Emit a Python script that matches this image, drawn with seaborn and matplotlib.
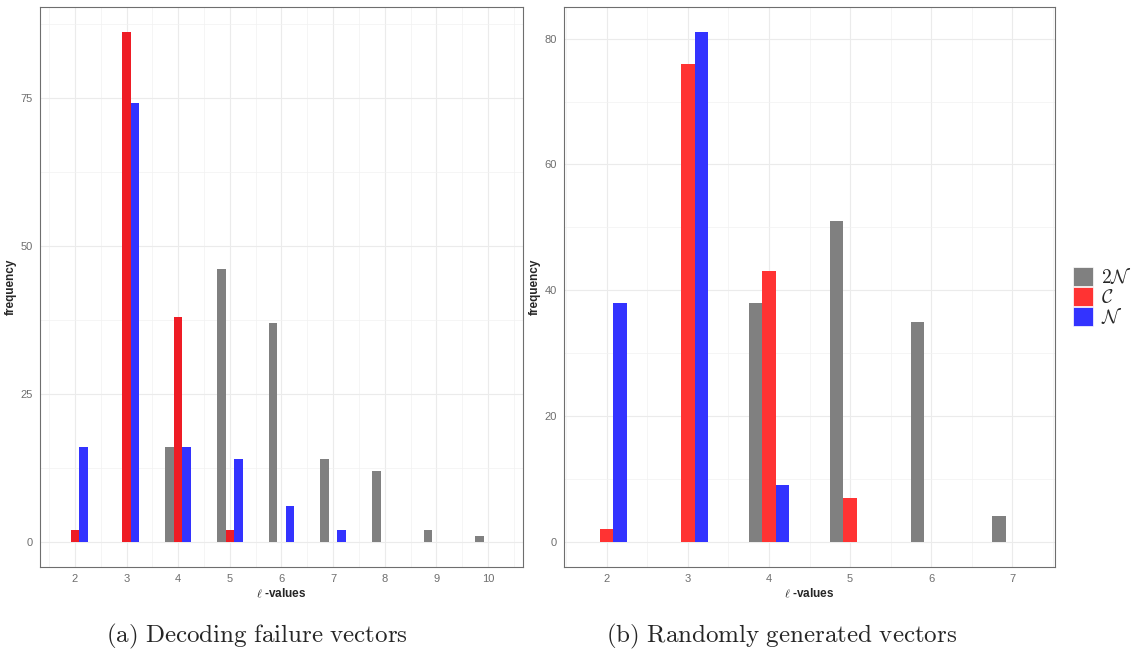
import matplotlib
matplotlib.use("Agg")
import matplotlib.pyplot as plt
from matplotlib.patches import Patch
from matplotlib.ticker import MultipleLocator
import numpy as np
import pandas as pd
import seaborn as sns

# l-values and frequencies, panel (a): decoding failure vectors
l_vals_a = [2, 3, 4, 5, 6, 7, 8, 9, 10]
freq_2n_a = [None, None, 16, 46, 37, 14, 12, 2, 1]
freq_c_a = [2, 86, 38, 2, None, None, None, None, None]
freq_n_a = [16, 74, 16, 14, 6, 2, None, None, None]

# panel (b): randomly generated vectors
l_vals_b = [2, 3, 4, 5, 6, 7]
freq_2n_b = [None, None, 38, 51, 35, 4]
freq_c_b = [2, 76, 43, 7, None, None]
freq_n_b = [38, 81, 9, None, None, None]

groups = ["2N", "C", "N"]
group_labels = [r"$2\mathcal{N}$", r"$\mathcal{C}$", r"$\mathcal{N}$"]
yticks_a = [0, 25, 50, 75]
yticks_b = [0, 20, 40, 60, 80]


def to_long(l_vals, series):
    rows = []
    for g, vals in zip(groups, series):
        for x, v in zip(l_vals, vals):
            if v is not None:
                rows.append({"l": x, "group": g, "freq": v})
    return pd.DataFrame(rows)


def style_panel(ax, l_vals, yticks, ymax):
    # ggplot-like expansion around the dodged bar groups
    xr = (l_vals[0] - 0.25, l_vals[-1] + 0.25)
    xpad = (xr[1] - xr[0]) * 0.05
    ax.set_xlim(xr[0] - xpad, xr[1] + xpad)
    ax.set_ylim(-ymax * 0.05, ymax * 1.05)
    ax.set_xticks(l_vals)
    ax.set_xticklabels([str(v) for v in l_vals])
    ax.set_yticks(yticks)
    ax.xaxis.set_minor_locator(MultipleLocator(0.5))
    ax.yaxis.set_minor_locator(MultipleLocator((yticks[1] - yticks[0]) / 2))
    ax.grid(True, which="major", color="#EBEBEB", lw=0.8)
    ax.grid(True, which="minor", color="#F2F2F2", lw=0.5)
    ax.set_axisbelow(True)
    ax.tick_params(which="major", length=3, width=0.7, color="#555555",
                   labelsize=8, labelcolor="#6E6E6E", pad=2)
    ax.tick_params(which="minor", length=0)
    for s in ax.spines.values():
        s.set_color("#6E6E6E")
        s.set_linewidth(0.8)
    ax.set_xlabel(r"$\ell$ -values", fontsize=8.5, fontweight="bold", labelpad=2)
    ax.set_ylabel("frequency", fontsize=8.5, fontweight="bold", labelpad=3)


sns.set_theme(style="white")
plt.rcParams["font.family"] = ["Liberation Sans", "DejaVu Sans"]
plt.rcParams["mathtext.fontset"] = "cm"

fig = plt.figure(figsize=(11.33, 6.52), dpi=100)
ax_a = fig.add_axes([40 / 1133, 1 - 567 / 652, 483 / 1133, 560 / 652])
ax_b = fig.add_axes([564 / 1133, 1 - 567 / 652, 491 / 1133, 560 / 652])

panels = [
    (ax_a, l_vals_a, [freq_2n_a, freq_c_a, freq_n_a], yticks_a,
     ["#808080", "#EE1C25", "#3333FF"]),
    (ax_b, l_vals_b, [freq_2n_b, freq_c_b, freq_n_b], yticks_b,
     ["#808080", "#FF3333", "#3333FF"]),
]

for ax, l_vals, series, yticks, colors in panels:
    df = to_long(l_vals, series)
    sns.barplot(data=df, x="l", y="freq", hue="group", hue_order=groups,
                palette=colors, native_scale=True, width=0.5, dodge=True,
                saturation=1, errorbar=None, legend=False, ax=ax,
                edgecolor="none", linewidth=0)
    style_panel(ax, l_vals, yticks, df["freq"].max())

handles = [Patch(facecolor=c, edgecolor="white", lw=0.5)
           for c in ["#808080", "#FF3333", "#3333FF"]]
fig.legend(handles, group_labels, loc="center left",
           bbox_to_anchor=(1073 / 1133, 1 - 297 / 652), frameon=False,
           fontsize=14, handlelength=1.05, handleheight=1.1,
           labelspacing=0.0, handletextpad=0.4, borderpad=0, borderaxespad=0)

fig.text(257 / 1133, 1 - 636 / 652, r"$\mathrm{(a)\ Decoding\ failure\ vectors}$",
         ha="center", va="center", fontsize=18)
fig.text(782 / 1133, 1 - 636 / 652, r"$\mathrm{(b)\ Randomly\ generated\ vectors}$",
         ha="center", va="center", fontsize=18)

fig.savefig("out.png", dpi=100)
